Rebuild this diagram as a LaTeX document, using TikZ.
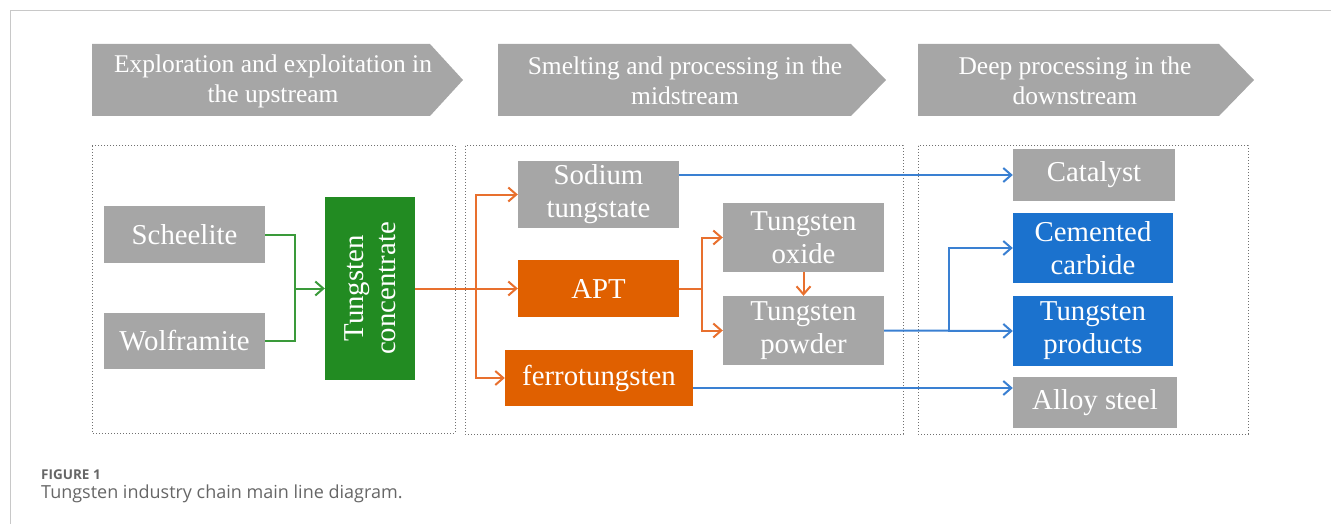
\documentclass[tikz,border=0pt]{standalone}
\usepackage{fontspec}
\setmainfont{Liberation Serif}
\newfontfamily\capfont{Open Sans}
\usetikzlibrary{arrows.meta}
\definecolor{boxgray}{HTML}{A6A6A6}
\definecolor{boxgreen}{HTML}{228B22}
\definecolor{boxorange}{HTML}{E06000}
\definecolor{boxblue}{HTML}{1B72CE}
\definecolor{lgreen}{HTML}{3A9A3A}
\definecolor{lorange}{HTML}{E8702E}
\definecolor{lblue}{HTML}{3A80D2}
\definecolor{framec}{HTML}{C8C8C8}
\definecolor{dotc}{HTML}{707070}
\definecolor{capc}{HTML}{666666}
\tikzset{
  x=1pt, y=-1pt,
  bx/.style={draw=none, text=white, inner sep=0pt, align=center,
    font=\fontsize{28.8}{33}\selectfont},
  gbox/.style={bx, fill=boxgray},
  grbox/.style={bx, fill=boxgreen},
  obox/.style={bx, fill=boxorange},
  bbox/.style={bx, fill=boxblue},
  hdr/.style={fill=boxgray, draw=none},
  hdrtext/.style={text=white, align=center, inner sep=0pt,
    font=\fontsize{25.5}{30}\selectfont},
  stage/.style={draw=dotc, dotted, line width=1pt},
  tipc/.style={-{Straight Barb[length=8pt,width=14pt]}},
  gline/.style={draw=lgreen, line width=2pt},
  oline/.style={draw=lorange, line width=2pt},
  bline/.style={draw=lblue, line width=2pt},
}
\begin{document}
\begin{tikzpicture}
\useasboundingbox (0,0) rectangle (1331,524);
% frame
\draw[framec, line width=1pt] (10,524) -- (10,11) -- (1331,11);

% headers
\fill[hdr] (92,44) -- (430,44) -- (463,80) -- (430,116) -- (92,116) -- cycle;
\fill[hdr] (498,44) -- (851,44) -- (886,80) -- (851,116) -- (498,116) -- cycle;
\fill[hdr] (918,44) -- (1219,44) -- (1254,80) -- (1219,116) -- (918,116) -- cycle;
\node[hdrtext] (h1) at (273,81) {Exploration and exploitation in\\the upstream};
\node[hdrtext] (h2) at (685,81) {Smelting and processing in the\\midstream};
\node[hdrtext] (h3) at (1075,81) {Deep processing in the\\downstream};

% stage boxes
\draw[stage] (92,146) rectangle (455,433);
\draw[stage] (465,146) rectangle (903,434);
\draw[stage] (918,146) rectangle (1248,434);

% nodes
\node[gbox, minimum width=161pt, minimum height=57pt] (sch) at (184.5,234.5) {Scheelite};
\node[gbox, minimum width=161pt, minimum height=56pt] (wol) at (184.5,341) {Wolframite};
\node[grbox, minimum width=90pt, minimum height=183pt] (conc) at (370,288.5) {};
\node[text=white, align=center, inner sep=0pt, rotate=90,
  font=\fontsize{28.8}{32}\selectfont] (conct) at (conc.center) {Tungsten\\concentrate};

\node[gbox, minimum width=161pt, minimum height=67pt] (sod) at (598.5,194.5) {Sodium\\tungstate};
\node[obox, minimum width=161pt, minimum height=57pt] (apt) at (598.5,288.5) {APT};
\node[obox, minimum width=188pt, minimum height=56pt] (fer) at (599,378) {ferrotungsten};
\node[gbox, minimum width=161pt, minimum height=69pt] (oxi) at (803.5,237.5) {Tungsten\\oxide};
\node[gbox, minimum width=161pt, minimum height=69pt] (pow) at (803.5,330.5) {Tungsten\\powder};

\node[gbox, minimum width=162pt, minimum height=52pt] (cat) at (1094,175) {Catalyst};
\node[bbox, minimum width=160pt, minimum height=70pt] (cem) at (1093,248) {Cemented\\carbide};
\node[bbox, minimum width=160pt, minimum height=70pt] (prod) at (1093,331) {Tungsten\\products};
\node[gbox, minimum width=164pt, minimum height=51pt] (all) at (1095,402.5) {Alloy steel};

% junction coordinates
\coordinate (gj) at (295,288.5);
\coordinate (oj) at (476,288.5);
\coordinate (aj) at (702,288.5);
\coordinate (bj) at (949,330.5);
\coordinate (fy) at (0,388);

% green connectors
\draw[gline] (sch.east) -| (gj);
\draw[gline] (wol.east) -| (gj);
\draw[gline, tipc] (gj) -- (conc.west);

% orange connectors
\draw[oline, tipc] (conc.east) -- (apt.west);
\draw[oline, tipc] (oj) |- (sod.west);
\draw[oline, tipc] (oj) |- (fer.west);
\draw[oline] (apt.east) -- (aj);
\draw[oline, tipc] (aj) |- (oxi.west);
\draw[oline, tipc] (aj) |- (pow.west);
\draw[oline, tipc] (oxi.south) -- (pow.north);

% blue connectors
\draw[bline, tipc] (sod.east |- cat.west) -- (cat.west);
\draw[bline, tipc] (pow.east) -- (prod.west);
\draw[bline, tipc] (bj) |- (cem.west);
\draw[bline, tipc] (fer.east |- fy) -- (all.west |- fy);

% caption
\node[anchor=base west, inner sep=0pt, text=capc,
  font=\capfont\bfseries\fontsize{13.5}{16}\selectfont] (fig) at (41,479) {FIGURE 1};
\node[anchor=base west, inner sep=0pt, text=capc,
  font=\capfont\fontsize{18}{22}\selectfont] (cap) at (41,498) {Tungsten industry chain main line diagram.};
\end{tikzpicture}
\end{document}
